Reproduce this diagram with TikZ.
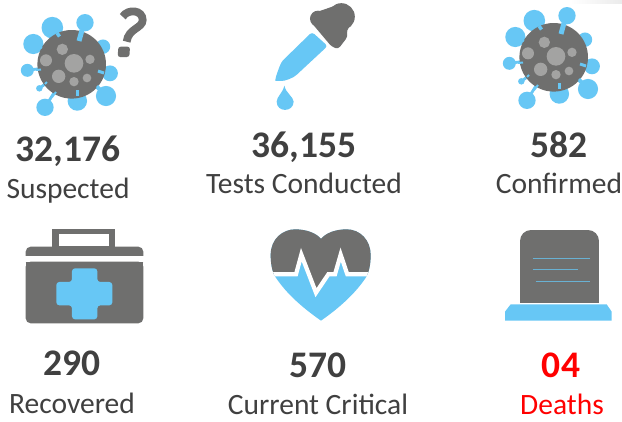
\documentclass[tikz,border=0pt]{standalone}
\usepackage{fontspec}
\setmainfont{Carlito}
\definecolor{icogrey}{HTML}{6F6F6E}
\definecolor{icoblue}{HTML}{67C7F5}
\definecolor{dotgrey}{HTML}{A3A3A2}
\definecolor{txtgrey}{HTML}{404040}
\tikzset{
  num/.style={anchor=base,font=\fontsize{37.5}{37.5}\selectfont\bfseries,text=txtgrey,inner sep=0pt},
  lab/.style={anchor=base,font=\fontsize{29.5}{29.5}\selectfont,text=txtgrey,inner sep=0pt}
}
\newcommand{\spike}[3]{% zoom x, y, radius
  \draw[icoblue,line width=2.8pt] (71.7,64.3) -- (#1/3,#2/3);
  \fill[icoblue] (#1/3,#2/3) circle ({#3/3*1.08});
}
\newcommand{\virusicon}[2]{%
\begin{scope}[shift={(#1,#2)}]
  \spike{157}{83}{30}\spike{255}{68}{24}\spike{309}{140}{20}\spike{330}{220}{22}
  \spike{318}{288}{28}\spike{232}{303}{27}\spike{135}{322}{24}\spike{118}{265}{9}
  \spike{82}{211}{18}\spike{100}{132}{28}
  \fill[icogrey] (71.7,64.3) circle (34.3);
  \foreach \a/\b/\c in {222/190/28,187/148/17,138/181/18,270/178/14,176/229/20,222/245/14,261/234/13}
    \fill[dotgrey] (\a/3,\b/3) circle ({\c/3});
  \draw[icoblue,line width=3.5pt] (59.5,36.5) -- (57,33);
  \draw[icoblue,line width=5pt] (79,41) -- (82,30);
  \draw[icoblue,line width=3pt] (98,71) -- (104,73);
  \draw[icoblue,line width=3pt] (77,90) -- (77,96);
  \draw[icoblue,line width=3pt] (97,86) -- (101,90);
  \draw[icoblue,line width=2pt] (36,70) -- (41,69.5);
  \draw[icoblue,line width=2pt] (42,48) -- (38,46);
  \draw[icoblue,line width=2pt] (45,84) -- (47,82);
  \draw[icoblue,line width=2pt] (52,97) -- (56,92);
\end{scope}}
\begin{document}
\begin{tikzpicture}[x=1pt,y=-1pt]
\useasboundingbox (0,0) rectangle (622,421);
\fill[white] (0,0) rectangle (622,421);
\shade[left color=white,right color=black!8] (570,0) rectangle (622,3);
% suspected virus
\virusicon{0}{0}
\draw[icogrey,line width=7.8pt] (368/3,50/3) .. controls (385/3,25/3) and (428/3,30/3) .. (428/3,60/3) .. controls (428/3,85/3) and (385/3,85/3) .. (380/3,125/3);
\fill[icogrey,rounded corners=2.5pt] (355/3,140/3) -- (390/3,140/3) -- (388/3,171/3) -- (353/3,171/3) -- cycle;
% dropper
\begin{scope}[shift={(250,0)},x=0.3333pt,y=-0.3333pt]
  \fill[icogrey] (274,50) circle [radius=13.5pt];
  \fill[icogrey] (204,56) circle [radius=8pt];
  \fill[icogrey,rounded corners=3pt] (181,64) -- (200,36) -- (262,15) -- (308,70) -- (290,90) -- (293,110) -- (265,147) -- (245,140) -- cycle;
  \fill[icoblue,rounded corners=3pt] (186,96) -- (233,138) -- (150,215) .. controls (130,235) and (105,243) .. (85,243) .. controls (75,243) and (78,230) .. (82,218) .. controls (90,195) and (95,185) .. (105,175) -- cycle;
  \fill[icoblue] (103,257) .. controls (98,280) and (80,290) .. (80,305) .. controls (80,338) and (130,338) .. (131,305) .. controls (130,290) and (108,280) .. (103,257) -- cycle;
\end{scope}
% confirmed virus
\virusicon{482}{-7}
% kit
\begin{scope}[shift={(10,220)},x=0.3333pt,y=-0.3333pt]
  \fill[icogrey] (125,27) rectangle (316,85);
  \fill[white] (146,43) rectangle (296,77);
  \fill[icogrey,rounded corners=5pt] (47,140) -- (47,80) -- (400,80) -- (400,140) -- cycle;
  \fill[white] (40,107) rectangle (410,125);
  \fill[icogrey,rounded corners=5pt] (47,125) -- (47,310) -- (400,310) -- (400,125) -- cycle;
  \fill[icogrey] (47,125) rectangle (400,140);
  \fill[icoblue,rounded corners=3pt] (186,145) -- (262,145) -- (262,186) -- (307,186) -- (307,256) -- (262,256) -- (262,298) -- (186,298) -- (186,256) -- (139,256) -- (139,186) -- (186,186) -- cycle;
\end{scope}
% heart
\begin{scope}[shift={(260,220)},x=0.3333pt,y=-0.3333pt]
  \def\heartpath{(183,302) .. controls (130,265) and (80,222) .. (47,172) .. controls (35,155) and (32,125) .. (32,105) .. controls (32,55) and (70,28) .. (105,28) .. controls (140,28) and (170,40) .. (183,57) .. controls (196,40) and (225,28) .. (260,28) .. controls (300,28) and (332,60) .. (332,105) .. controls (332,130) and (328,155) .. (318,172) .. controls (285,222) and (236,265) .. (183,302) -- cycle}
  \fill[icoblue] \heartpath;
  \begin{scope}
    \clip \heartpath;
    \fill[icogrey] (20,0) -- (345,0) -- (345,163) -- (262,163) -- (242,104) -- (225,163) -- (205,163) -- (168,218) -- (124,104) -- (108,163) -- (20,163) -- cycle;
    \draw[white,line width=4.2pt,line join=miter] (20,163) -- (108,163) -- (124,104) -- (168,218) -- (205,163) -- (225,163) -- (242,104) -- (262,163) -- (345,163);
  \end{scope}
\end{scope}
% grave
\begin{scope}[shift={(495,220)},x=0.3333pt,y=-0.3333pt]
  \fill[icogrey,rounded corners=11pt] (75,290) -- (75,30) -- (312,30) -- (312,290) -- cycle;
  \fill[white] (60,250) rectangle (330,305);
  \draw[icoblue!75!icogrey,line width=1pt] (113,115) -- (285,115);
  \draw[icoblue!75!icogrey,line width=1pt] (113,150) -- (250,150);
  \draw[icoblue!75!icogrey,line width=1pt] (122,185) -- (285,185);
  \fill[icoblue] (30,302) -- (30,275) -- (47,253) -- (335,253) -- (350,275) -- (350,302) -- cycle;
\end{scope}
% texts
\node[num] (n1) at (68,161.5) {32,176};
\node[lab] (l1) at (68,198) {Suspected};
\node[num] (n2) at (304,157) {36,155};
\node[lab] (l2) at (304,193.5) {Tests Conducted};
\node[num] (n3) at (559,157) {582};
\node[lab] (l3) at (559,193.5) {Confirmed};
\node[num] (n4) at (72,375) {290};
\node[lab] (l4) at (72,413) {Recovered};
\node[num] (n5) at (318,377) {570};
\node[lab] (l5) at (318,414) {Current Critical};
\node[num,text=red] (n6) at (561,377) {04};
\node[lab,text=red] (l6) at (562,414) {Deaths};
\end{tikzpicture}
\end{document}
